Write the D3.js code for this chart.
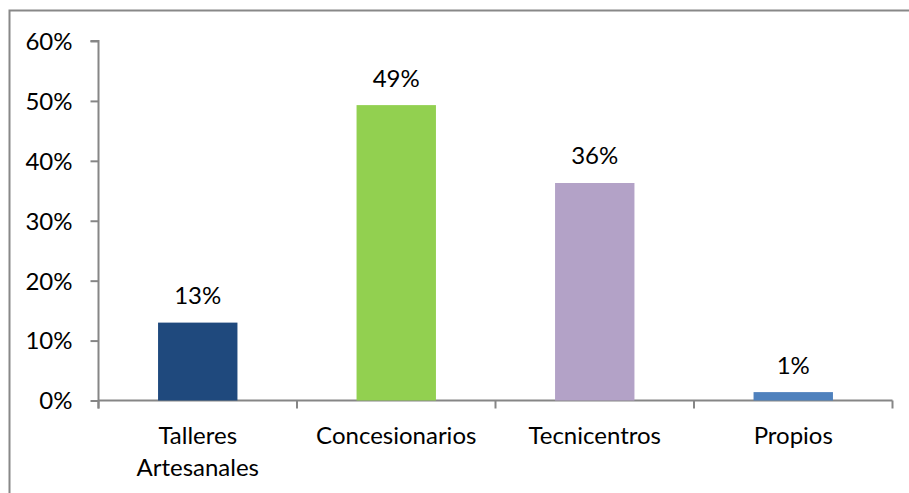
<!DOCTYPE html>
<html><head><meta charset="utf-8">
<script src="https://cdn.jsdelivr.net/npm/d3@7"></script>
<style>body{margin:0;background:#fff}svg{display:block}text{font-family:Lato,"Open Sans",sans-serif;fill:#000}</style>
</head><body>
<svg id="c" width="909" height="493"></svg>
<script>
const categories = [["Talleres","Artesanales"],["Concesionarios"],["Tecnicentros"],["Propios"]];
const values = [0.13, 0.493, 0.363, 0.014];
const labels = ["13%","49%","36%","1%"];
const colors = ["#1F497D","#92D050","#B3A2C7","#4F81BD"];
const yTicks = [0,0.1,0.2,0.3,0.4,0.5,0.6];

const svg = d3.select("#c");
svg.append("rect").attr("x",9.5).attr("y",10.5).attr("width",920).attr("height",500)
  .attr("fill","none").attr("stroke","#888").attr("stroke-width",2);

const x0=98.5, x1=892.5, yB=400.5, yT=41;
const x = d3.scaleBand().domain(d3.range(categories.length)).range([x0,x1]).paddingInner(0.6).paddingOuter(0.3);
const y = d3.scaleLinear().domain([0,0.6]).range([yB,yT]);
const fs = "24px";

// y axis
const ya = svg.append("g").attr("transform",`translate(${x0},0)`)
  .call(d3.axisLeft(y).tickValues(yTicks).tickFormat(d3.format(".0%")).tickSize(8).tickPadding(18));
ya.select(".domain").attr("stroke","#868686").attr("stroke-width",2).attr("d",`M-8,${yT}H0V${yB+8}`);
ya.selectAll(".tick line").attr("stroke","#868686").attr("stroke-width",2);
ya.selectAll(".tick text").style("font-size",fs).attr("text-anchor","end").attr("dy","0.35em");

// x axis
const band = (x1-x0)/categories.length;
svg.append("line").attr("x1",x0).attr("x2",x1).attr("y1",yB).attr("y2",yB).attr("stroke","#868686").attr("stroke-width",2);
d3.range(categories.length+1).forEach(i=>{
  svg.append("line").attr("x1",x0+i*band).attr("x2",x0+i*band).attr("y1",yB).attr("y2",yB+8)
    .attr("stroke","#868686").attr("stroke-width",2);
});

// bars
svg.selectAll("rect.bar").data(values).join("rect").attr("class","bar")
  .attr("x",(d,i)=>x(i)).attr("width",x.bandwidth())
  .attr("y",d=>y(d)).attr("height",d=>yB-y(d)).attr("fill",(d,i)=>colors[i]);

svg.selectAll("text.lbl").data(values).join("text").attr("class","lbl")
  .attr("x",(d,i)=>x(i)+x.bandwidth()/2).attr("y",d=>y(d)-27).attr("dy","0.35em")
  .attr("text-anchor","middle").style("font-size",fs).text((d,i)=>labels[i]);

categories.forEach((c,i)=>{
  const t = svg.append("text").attr("text-anchor","middle").style("font-size",fs)
    .attr("x",x(i)+x.bandwidth()/2);
  c.forEach((line,j)=>t.append("tspan").attr("x",x(i)+x.bandwidth()/2).attr("y",436+j*31.5).attr("dy","0.35em").text(line));
});
</script>
</body></html>
